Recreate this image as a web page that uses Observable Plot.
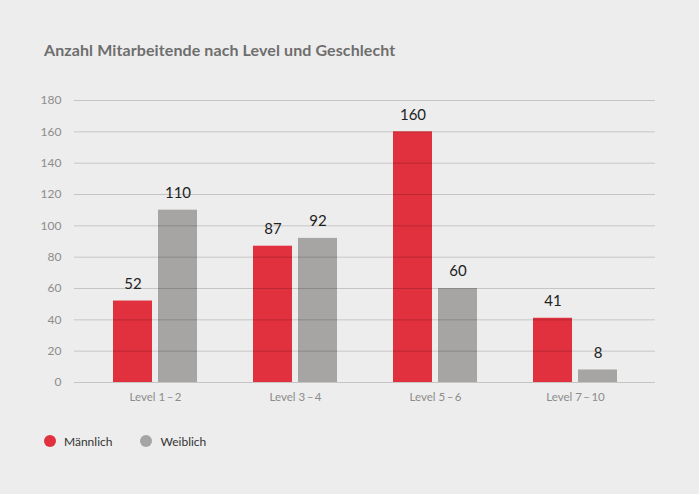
<!DOCTYPE html>
<html>
<head>
<meta charset="utf-8">
<script src="https://cdn.jsdelivr.net/npm/d3@7"></script>
<script src="https://cdn.jsdelivr.net/npm/@observablehq/plot@0.6"></script>
<style>
  html, body { margin: 0; padding: 0; background: #ededed; }
  body { width: 699px; height: 494px; font-family: Lato, "Open Sans", sans-serif; overflow: hidden; }
  #title { padding: 40px 0 0 44px; height: 20px; line-height: 20px; font-size: 16px; font-weight: 700; color: #6e6e6e; letter-spacing: 0.1px; }
  #chart { margin-top: 20px; height: 330px; }
  #legend { margin-top: 24px; height: 14px; padding-left: 44px; display: flex; align-items: center; font-size: 12px; color: #333; }
  .item { display: flex; align-items: center; margin-right: 28px; }
  .dot { width: 12px; height: 12px; border-radius: 50%; margin-right: 8px; }
</style>
</head>
<body>
<div id="title">Anzahl Mitarbeitende nach Level und Geschlecht</div>
<div id="chart"></div>
<div id="legend"></div>
<script>
const levels = ["Level 1\u2009–\u20092", "Level 3\u2009–\u20094", "Level 5\u2009–\u20096", "Level 7\u2009–\u200910"];
const genders = ["Männlich", "Weiblich"];
const maennlich = [52, 87, 160, 41];
const weiblich = [110, 92, 60, 8];
const yTicks = [0, 20, 40, 60, 80, 100, 120, 140, 160, 180];
const colors = ["#e1303e", "#a6a5a4"];

const dataM = levels.map((l, i) => ({level: l, gender: genders[0], value: maennlich[i]}));
const dataW = levels.map((l, i) => ({level: l, gender: genders[1], value: weiblich[i]}));

// group band = 84px: each bar 39px, gap 6px
const barInset = 45;
const labelShift = 22.5;

const chart = Plot.plot({
  width: 699,
  height: 330,
  marginLeft: 74,
  marginRight: 44,
  marginTop: 20,
  marginBottom: 28,
  style: {background: "transparent", fontFamily: "Lato, 'Open Sans', sans-serif", color: "#8c8c8c"},
  x: {domain: levels, paddingInner: 0.4, paddingOuter: 0.275, label: null, axis: null},
  y: {domain: [0, 180], axis: null},
  color: {domain: genders, range: colors},
  marks: [
    Plot.barY(dataM, {x: "level", y: "value", fill: "gender", insetRight: barInset}),
    Plot.barY(dataW, {x: "level", y: "value", fill: "gender", insetLeft: barInset}),
    Plot.ruleY(yTicks, {stroke: "#000", strokeOpacity: 0.17}),
    Plot.text(dataM, {x: "level", y: "value", text: d => String(d.value), dx: -labelShift, dy: -17, fill: "#222", fontSize: 15}),
    Plot.text(dataW, {x: "level", y: "value", text: d => String(d.value), dx: labelShift, dy: -17, fill: "#222", fontSize: 15}),
    Plot.axisY(yTicks, {tickSize: 0, tickPadding: 13, fontSize: 12, label: null}),
    Plot.axisX({tickSize: 0, tickPadding: 10, fontSize: 11.5, label: null})
  ]
});
document.getElementById("chart").appendChild(chart);

const legend = document.getElementById("legend");
genders.forEach((g, i) => {
  const item = document.createElement("div");
  item.className = "item";
  const dot = document.createElement("span");
  dot.className = "dot";
  dot.style.background = colors[i];
  const label = document.createElement("span");
  label.textContent = g;
  item.appendChild(dot);
  item.appendChild(label);
  legend.appendChild(item);
});
</script>
</body>
</html>
